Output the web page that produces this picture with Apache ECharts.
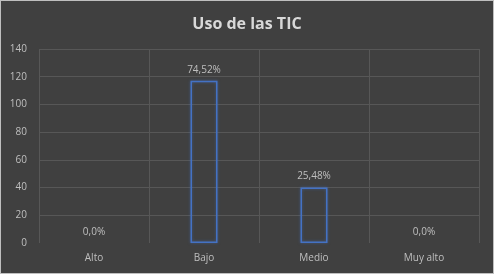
<!DOCTYPE html>
<html><head><meta charset="utf-8">
<script src="https://cdn.jsdelivr.net/npm/echarts@6/dist/echarts.min.js"></script>
<style>html,body{margin:0;padding:0;background:#404040;}#c{width:494px;height:274px;box-sizing:border-box;border:1px solid #bfbfbf;}</style>
</head><body><div id="c"></div>
<script>
const categories = ["Alto", "Bajo", "Medio", "Muy alto"];
const values = [0, 117, 40, 0];
const percentLabels = ["0,0%", "74,52%", "25,48%", "0,0%"];
const yTicks = {min: 0, max: 140, interval: 20};

const chart = echarts.init(document.getElementById('c'), null, {renderer: 'canvas'});
const font = '"Open Sans", "Noto Sans", sans-serif';
const grid = '#575757';
chart.setOption({
  backgroundColor: '#404040',
  animation: false,
  title: {
    text: 'Uso de las TIC', left: 'center', top: 10,
    textStyle: {color: '#d9d9d9', fontSize: 16, fontWeight: 'bold', fontFamily: font}
  },
  grid: {left: 38, right: 14, top: 48, bottom: 30},
  xAxis: {
    type: 'category', data: categories,
    axisLine: {show: false}, axisTick: {show: false},
    axisLabel: {color: '#bfbfbf', fontSize: 10, fontFamily: font, margin: 10},
    splitLine: {show: true, lineStyle: {color: grid, width: 1}}
  },
  yAxis: {
    type: 'value', min: yTicks.min, max: yTicks.max, interval: yTicks.interval,
    axisLine: {show: false}, axisTick: {show: false},
    axisLabel: {color: '#bfbfbf', fontSize: 10, fontFamily: font, margin: 12},
    splitLine: {lineStyle: {color: ['rgba(0,0,0,0)', grid, grid, grid, grid, grid, grid, grid], width: 1}}
  },
  series: [{
    type: 'bar', barWidth: 27,
    data: values.map(v => v === 0 ? {value: v, itemStyle: {borderWidth: 0, shadowBlur: 0, borderColor: 'rgba(0,0,0,0)'}} : v),
    itemStyle: {color: 'rgba(0,0,0,0)', borderColor: '#4472c4', borderWidth: 1.5, shadowBlur: 3, shadowColor: 'rgba(68,114,196,0.6)'},
    label: {
      show: true, position: 'top', distance: 6,
      color: '#bfbfbf', fontSize: 10, fontFamily: font,
      formatter: p => percentLabels[p.dataIndex]
    }
  }]
});
</script></body></html>
